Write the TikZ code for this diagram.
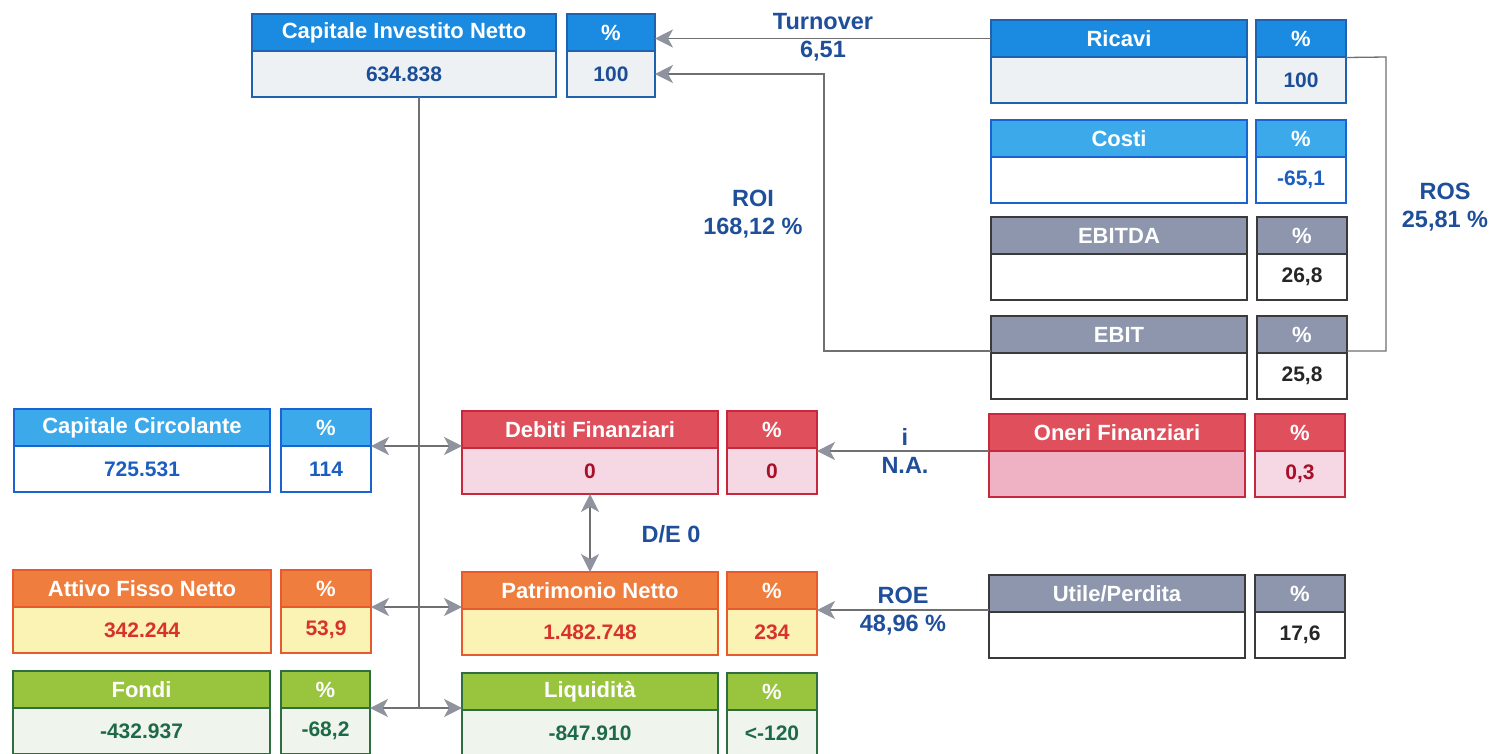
\documentclass[tikz,border=0pt]{standalone}
\usepackage{fontspec}
\setmainfont{Liberation Sans}
\usetikzlibrary{arrows.meta}
% themes: B border, H header fill, V value fill, T value text
\definecolor{blueAB}{HTML}{1E62B0}\definecolor{blueAH}{HTML}{1A8BE0}\definecolor{blueAV}{HTML}{EDF1F4}\definecolor{blueAT}{HTML}{1C4E98}
\definecolor{blueBB}{HTML}{1A63D0}\definecolor{blueBH}{HTML}{3BA9EA}\definecolor{blueBV}{HTML}{FFFFFF}\definecolor{blueBT}{HTML}{1B5EC0}
\definecolor{grayB}{HTML}{3A3A3A}\definecolor{grayH}{HTML}{8D96AC}\definecolor{grayV}{HTML}{FFFFFF}\definecolor{grayT}{HTML}{262626}
\definecolor{redB}{HTML}{C8283C}\definecolor{redH}{HTML}{E0505C}\definecolor{redV}{HTML}{F5D8E4}\definecolor{redT}{HTML}{A8102A}
\definecolor{redxB}{HTML}{C8283C}\definecolor{redxH}{HTML}{E0505C}\definecolor{redxV}{HTML}{EFB2C4}\definecolor{redxT}{HTML}{A8102A}
\definecolor{orangeB}{HTML}{E65A2E}\definecolor{orangeH}{HTML}{EF7E3E}\definecolor{orangeV}{HTML}{FAF3B4}\definecolor{orangeT}{HTML}{D8322C}
\definecolor{greenB}{HTML}{2F6E40}\definecolor{greenH}{HTML}{98C43E}\definecolor{greenV}{HTML}{EFF5EC}\definecolor{greenT}{HTML}{1E6A48}
\definecolor{lblT}{HTML}{1F4E9A}
\definecolor{lineC}{HTML}{707070}
\definecolor{arrC}{HTML}{8E939D}
\newcommand{\hdfont}{\fontsize{22}{26}\selectfont\bfseries}
\newcommand{\valfont}{\fontsize{21}{24}\selectfont\bfseries}
\newcommand{\lblfont}{\fontsize{23.5}{28}\selectfont\bfseries}
\tikzset{
  headbox/.style={draw=#1B, fill=#1H, text=white, font=\hdfont, minimum height=37pt,
    inner sep=0pt, outer sep=0pt, line width=1.6pt},
  valbox/.style={draw=#1B, fill=#1V, text=#1T, font=\valfont, minimum height=46pt,
    inner sep=0pt, outer sep=0pt, line width=1.6pt},
  lbl/.style={text=lblT, font=\lblfont, align=center, inner sep=1pt},
  conn/.style={draw=lineC, line width=1.3pt},
  >={Stealth[length=18pt,width=18pt,inset=5pt,color=arrC]},
}
\newcommand{\kcell}[7]{%
  \node[headbox=#5, minimum width=#4pt, anchor=north west] (#1h) at (#2,#3) {#6};
  \node[valbox=#5, minimum width=#4pt, anchor=north] (#1v) at (#1h.south) {#7};
}
\begin{document}
\begin{tikzpicture}[x=1pt,y=-1pt]
\useasboundingbox[fill=white] (0,0) rectangle (1495,753);
% top left
\kcell{cin}{252}{14}{304}{blueA}{Capitale Investito Netto}{634.838}
\kcell{cinp}{567}{14}{88}{blueA}{\%}{100}
% right column
\kcell{ricavi}{991}{20}{256}{blueA}{Ricavi}{}
\kcell{ricavip}{1256}{20}{90}{blueA}{\%}{100}
\kcell{costi}{991}{120}{256}{blueB}{Costi}{}
\kcell{costip}{1256}{120}{90}{blueB}{\%}{-65,1}
\kcell{ebitda}{991}{217}{256}{gray}{EBITDA}{}
\kcell{ebitdap}{1257}{217}{90}{gray}{\%}{26,8}
\kcell{ebit}{991}{316}{256}{gray}{EBIT}{}
\kcell{ebitp}{1257}{316}{90}{gray}{\%}{25,8}
\kcell{oneri}{989}{414}{256}{redx}{Oneri Finanziari}{}
\kcell{onerip}{1255}{414}{90}{red}{\%}{0,3}
\kcell{utile}{989}{575}{256}{gray}{Utile/Perdita}{}
\kcell{utilep}{1255}{575}{90}{gray}{\%}{17,6}
% left column
\kcell{circ}{14}{409}{256}{blueB}{Capitale Circolante}{725.531}
\kcell{circp}{281}{409}{90}{blueB}{\%}{114}
\kcell{attivo}{13}{570}{258}{orange}{Attivo Fisso Netto}{342.244}
\kcell{attivop}{281}{570}{90}{orange}{\%}{53,9}
\kcell{fondi}{13}{671}{257}{green}{Fondi}{-432.937}
\kcell{fondip}{281}{671}{89}{green}{\%}{-68,2}
% middle column
\kcell{debiti}{462}{411}{256}{red}{Debiti Finanziari}{0}
\kcell{debitip}{727}{411}{90}{red}{\%}{0}
\kcell{patrim}{462}{572}{256}{orange}{Patrimonio Netto}{1.482.748}
\kcell{patrimp}{727}{572}{90}{orange}{\%}{234}
\kcell{liq}{462}{673}{256}{green}{Liquidità}{-847.910}
\kcell{liqp}{727}{673}{90}{green}{\%}{<-120}
% labels
\node[lbl] (turn) at (823,37) {Turnover\\6,51};
\node[lbl] (roi) at (753,214) {ROI\\168,12 \%};
\node[lbl] (ros) at (1445,207) {ROS\\25,81 \%};
\node[lbl] (ilbl) at (905,451) {i\\N.A.};
\node[lbl] (roe) at (903,611) {ROE\\48,96 \%};
\node[lbl] (de) at (671,534) {D/E 0};
% connectors
\draw[conn,->] (ricavih.west) -- (ricavih.west -| cinph.east);
\coordinate (roiK) at (824,351);
\draw[conn,->] ([yshift=2pt]ebith.south west) -- (roiK) |- (cinpv.east);
\coordinate (rosK) at (1386,57);
\draw[conn] ([yshift=-0.5pt]ricavipv.north east) -- (rosK) |- ([yshift=2pt]ebitph.south east);
\draw[conn,->] (onerih.south west) -- (onerih.south west -| debitiph.east);
\draw[conn,->] ([yshift=2pt]utileh.south west) -- ([yshift=2pt]utileh.south west -| patrimph.east);
\draw[conn,<->] (debitiv.south) -- (patrimh.north);
% spine
\coordinate (spTop) at ([xshift=15pt]cinv.south);
\coordinate (spBot) at (spTop |- fondih.south);
\draw[conn] (spTop) -- (spBot);
\draw[conn,<->] (circph.south east) -- (circph.south east -| debitih.west);
\draw[conn,<->] (attivoph.south east) -- (attivoph.south east -| patrimh.west);
\draw[conn,<->] (fondiph.south east) -- (fondiph.south east -| liqh.west);
\end{tikzpicture}
\end{document}
